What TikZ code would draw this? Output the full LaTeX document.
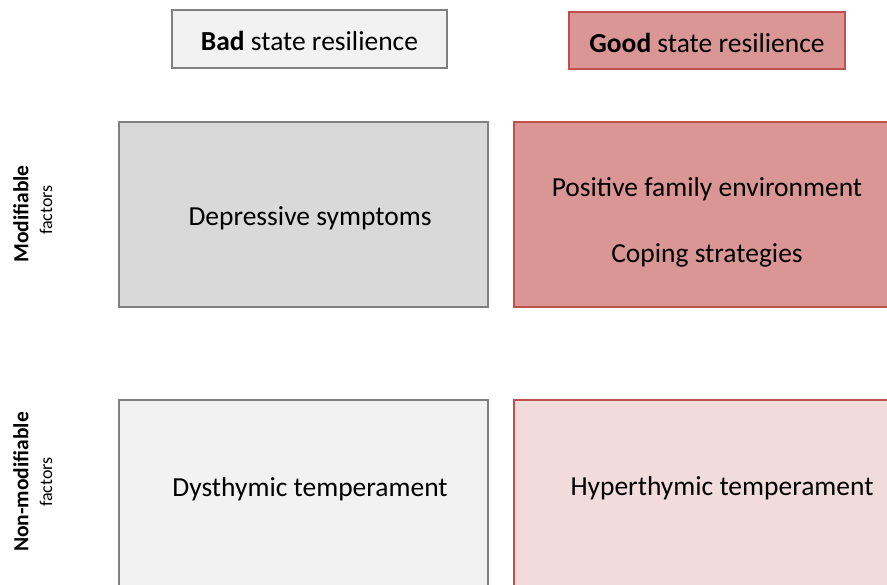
\documentclass[tikz,border=0pt]{standalone}
\usepackage{fontspec}
\setmainfont{Carlito}
\definecolor{lgray}{HTML}{F2F2F2}
\definecolor{mgray}{HTML}{D9D9D9}
\definecolor{bgray}{HTML}{808080}
\definecolor{mred}{HTML}{DA9694}
\definecolor{lred}{HTML}{F2DCDB}
\definecolor{bred}{HTML}{C0504D}
\tikzset{
  graybox/.style={draw=bgray, line width=1.2pt},
  redbox/.style={draw=bred, line width=1.2pt},
  txt/.style={font=\fontsize{27.5}{32}\selectfont, inner sep=0pt},
  sideb/.style={rotate=90, font=\fontsize{21.5}{25}\selectfont\bfseries, inner sep=0pt},
  side/.style={rotate=90, font=\fontsize{18}{21}\selectfont, inner sep=0pt},
}
\begin{document}
\begin{tikzpicture}[x=1pt,y=-1pt]
\useasboundingbox (0,0) rectangle (887,585);
\begin{scope}
\clip (0,0) rectangle (887,585);
\node[graybox, fill=lgray, minimum width=275, minimum height=58, inner sep=0pt] (badh) at (309.5,39) {};
\node[txt] (badt) at (309.5,41) {\textbf{Bad} state resilience};
\node[redbox, fill=mred, minimum width=276, minimum height=57, inner sep=0pt] (goodh) at (707,40.5) {};
\node[txt] (goodt) at (707,43) {\textbf{Good} state resilience};
\draw[graybox, fill=mgray] (119,122) rectangle (488,307);
\node[txt] (dep) at (310,218) {Depressive symptoms};
\draw[redbox, fill=mred] (514,122) rectangle (905,307);
\node[txt] (pos) at (707,189) {Positive family environment};
\node[txt] (cop) at (707,255) {Coping strategies};
\draw[graybox, fill=lgray] (119,400) rectangle (488,600);
\node[txt] (dys) at (310,489) {Dysthymic temperament};
\draw[redbox, fill=lred] (514,400) rectangle (905,600);
\node[txt] (hyp) at (722,488) {Hyperthymic temperament};
\node[sideb] (mod) at (21,214) {Modifiable};
\node[side] (modf) at (46,210) {factors};
\node[sideb] (nmod) at (21,482) {Non-modifiable};
\node[side] (nmodf) at (46,482) {factors};
\end{scope}
\end{tikzpicture}
\end{document}
